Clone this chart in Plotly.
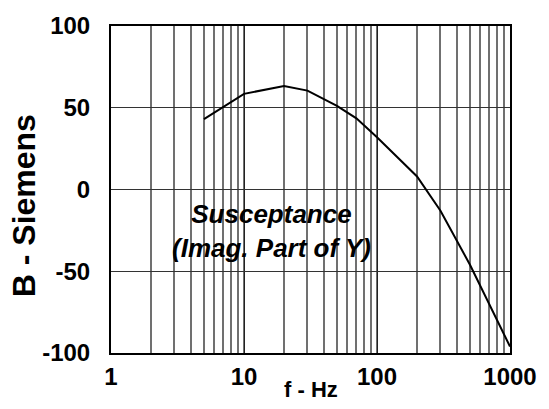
import plotly.graph_objects as go

freq_hz = [5, 10, 20, 30, 50, 70, 100, 200, 300, 500, 1000]
susceptance = [43, 58.5, 63.3, 60.5, 51.2, 43.5, 32, 8, -13, -46, -96]

x_ticks = [1, 10, 100, 1000]
x_tick_labels = ["1", "10", "100", "1000"]
y_ticks = [-100, -50, 0, 50, 100]
y_tick_labels = ["-100", "-50", "0", "50", "100"]

font_main = "Liberation Sans, Arial, sans-serif"

fig = go.Figure()
fig.add_trace(go.Scatter(
    x=freq_hz, y=susceptance, mode="lines",
    line=dict(color="black", width=2),
    showlegend=False, hoverinfo="skip",
))

fig.update_layout(
    width=549, height=409,
    margin=dict(l=111, r=38, t=17, b=56),
    paper_bgcolor="white", plot_bgcolor="white",
    font=dict(family=font_main, color="black"),
    xaxis=dict(
        type="log", range=[0, 3],
        tickmode="array", tickvals=x_ticks, ticktext=x_tick_labels,
        tickfont=dict(size=24, family=font_main, weight="bold"),
        ticks="", ticklabelstandoff=1,
        showgrid=True, gridcolor="#222222", gridwidth=1,
        minor=dict(showgrid=True, dtick="D1", gridcolor="#707070", gridwidth=1.5, ticks=""),
        showline=True, linecolor="black", linewidth=2, mirror=True,
        zeroline=False,
    ),
    yaxis=dict(
        range=[-100, 100],
        tickmode="array", tickvals=y_ticks, ticktext=y_tick_labels,
        tickfont=dict(size=24, family=font_main, weight="bold"),
        ticks="", ticklabelstandoff=14,
        showgrid=True, gridcolor="#333333", gridwidth=1,
        showline=True, linecolor="black", linewidth=2, mirror=True,
        zeroline=False,
    ),
    annotations=[
        dict(text="<b><i>Susceptance<br>(Imag. Part of Y)</i></b>",
             xref="paper", yref="paper", x=(272 - 111) / 400, y=(353 - 228) / 336,
             xanchor="center", yanchor="middle", showarrow=False,
             font=dict(size=26, family=font_main, color="black")),
        dict(text="<b>f - Hz</b>", xref="paper", yref="paper",
             x=(312 - 111) / 400, y=-(390 - 353) / 336,
             xanchor="center", yanchor="middle", showarrow=False,
             font=dict(size=22, family=font_main, color="black")),
        dict(text="<b>B - Siemens</b>", xref="paper", yref="paper",
             x=-(111 - 24) / 400, y=(353 - 202) / 336,
             xanchor="center", yanchor="middle", showarrow=False, textangle=-90,
             font=dict(size=32, family=font_main, color="black")),
    ],
)

fig.write_html("out.html")
